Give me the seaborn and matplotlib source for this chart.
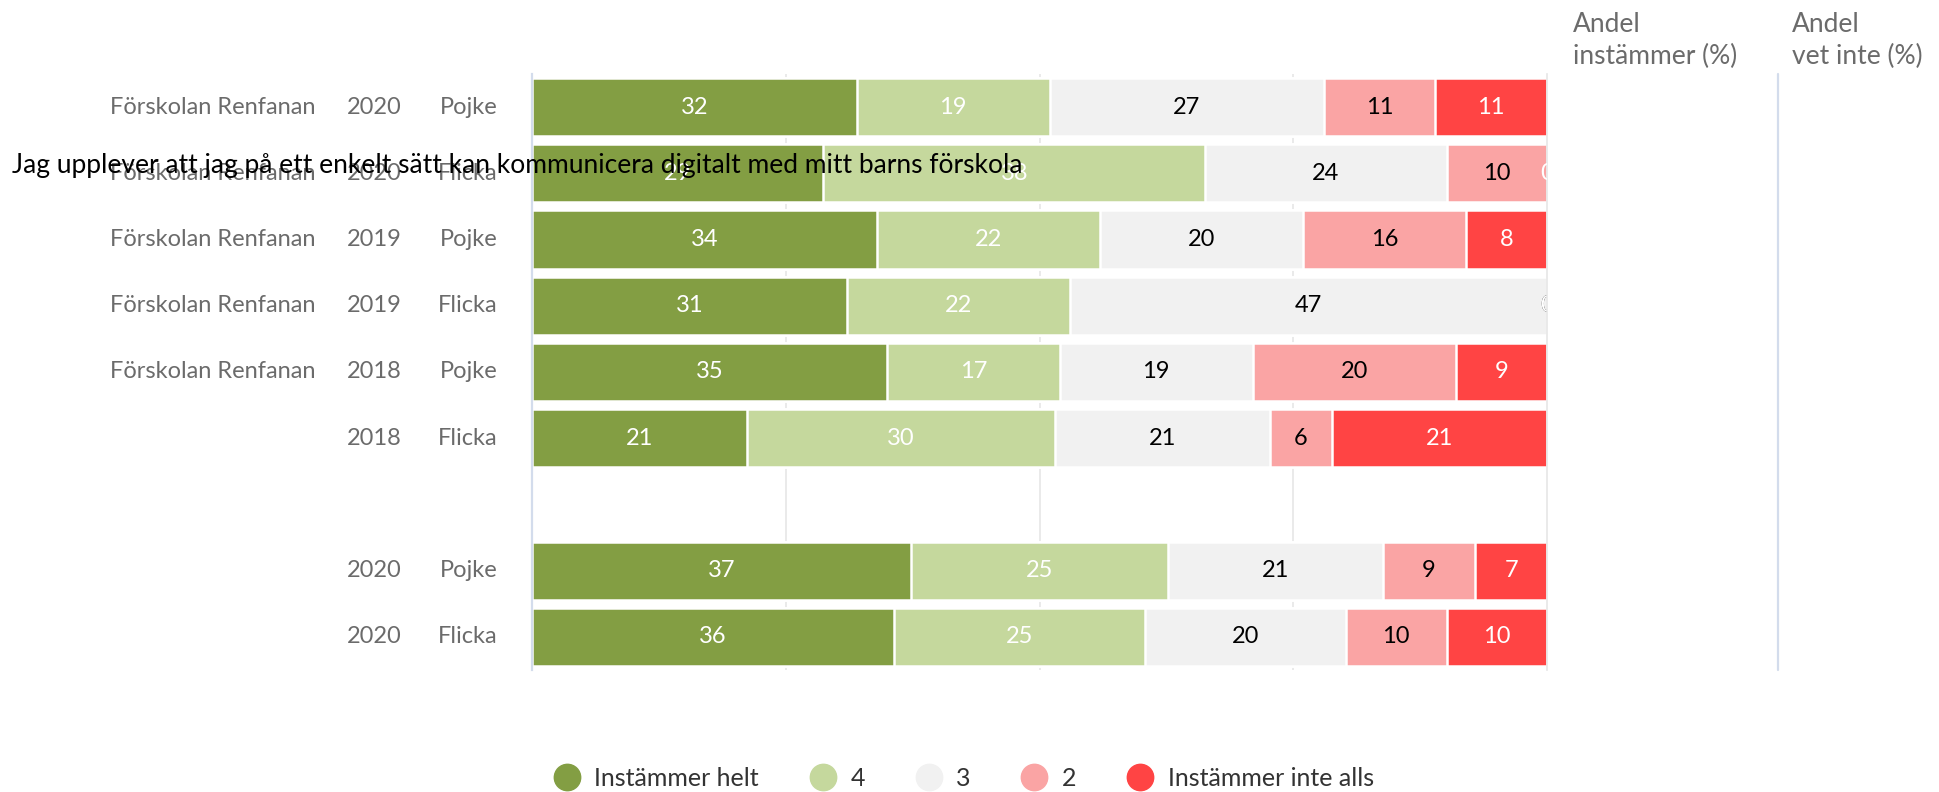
import numpy as np
import pandas as pd
import matplotlib
matplotlib.use("Agg")
import matplotlib.pyplot as plt
import matplotlib.transforms as mtransforms
from matplotlib.lines import Line2D
import seaborn as sns

# ---- data -------------------------------------------------------------
title = "Jag upplever att jag på ett enkelt sätt kan kommunicera digitalt med mitt barns förskola"
schools = ["Förskolan Renfanan"] * 5 + ["", "", "", ""]
years = ["2020", "2020", "2019", "2019", "2018", "2018", "", "2020", "2020"]
genders = ["Pojke", "Flicka", "Pojke", "Flicka", "Pojke", "Flicka", "", "Pojke", "Flicka"]

levels = ["Instämmer helt", "4", "3", "2", "Instämmer inte alls"]
helt = [32, 29, 34, 31, 35, 21, None, 37, 36]
fyra = [19, 38, 22, 22, 17, 30, None, 25, 25]
tre = [27, 24, 20, 47, 19, 21, None, 21, 20]
tva = [11, 10, 16, 0, 20, 6, None, 9, 10]
inte = [11, 0, 8, 0, 9, 21, None, 7, 10]

colors = ["#839E43", "#C5D89D", "#F1F1F1", "#FAA4A4", "#FF4444"]
text_colors = ["white", "white", "black", "black", "white"]

header_cols = ["Andel\ninstämmer (%)", "Andel\nvet inte (%)"]

# ---- figure -----------------------------------------------------------
W, H = 1940, 792
fig = plt.figure(figsize=(W / 100, H / 100), dpi=100)
sns.set_style("white")
plt.rcParams["font.family"] = ["Lato", "DejaVu Sans"]

ax_left, ax_right, ax_top, ax_bot = 532, 1547, 74, 670
ax = fig.add_axes([ax_left / W, 1 - ax_bot / H, (ax_right - ax_left) / W, (ax_bot - ax_top) / H])

row_keys = [f"r{i}" for i in range(len(years))]
series = [helt, fyra, tre, tva, inte]

records = []
for i, key in enumerate(row_keys):
    vals = [s[i] for s in series]
    if vals[0] is None:
        continue
    total = float(sum(vals))
    cum = 0.0
    for lev, v in zip(levels, vals):
        start = cum
        cum += v / total * 100.0
        records.append(dict(row=key, level=lev, value=v, start=start, end=cum))
df = pd.DataFrame(records)

# stacked bars: draw cumulative ends from the last level back to the first
for lev, col in reversed(list(zip(levels, colors))):
    sub = df[df["level"] == lev]
    sns.barplot(data=sub, x="end", y="row", order=row_keys, orient="h",
                color=col, saturation=1, width=0.88, errorbar=None,
                edgecolor="white", linewidth=1.8, ax=ax)

# value labels
for _, r in df.iterrows():
    li = levels.index(r["level"])
    yi = row_keys.index(r["row"])
    ax.text((r["start"] + r["end"]) / 2, yi, f"{r['value']:d}", ha="center", va="center",
            fontsize=17, color=text_colors[li], clip_on=True, zorder=5)

ax.set_xlim(0, 100)
ax.set_ylim(len(row_keys) - 0.5, -0.5)
ax.set_xlabel("")
ax.set_ylabel("")
ax.set_xticks([25, 50, 75])
ax.set_xticklabels([])
ax.tick_params(axis="x", length=0)
ax.xaxis.grid(True, color="#E6E6E6", linewidth=1.2)
ax.yaxis.grid(False)
ax.set_axisbelow(True)

ax.set_yticks(range(len(row_keys)))
ax.set_yticklabels([])
ax.tick_params(axis="y", which="major", length=0)
ax.set_yticks(np.arange(-0.5, len(row_keys), 1.0), minor=True)
ax.tick_params(axis="y", which="minor", length=16, width=1.6, color="#D3DCEC")

for side in ["top", "bottom"]:
    ax.spines[side].set_visible(False)
ax.spines["left"].set_color("#D3DCEC")
ax.spines["left"].set_linewidth(1.6)
ax.spines["right"].set_color("#E6E6E6")
ax.spines["right"].set_linewidth(1.2)

# row labels in three columns
axw = ax_right - ax_left
tr = mtransforms.blended_transform_factory(ax.transAxes, ax.transData)
label_style = dict(ha="right", va="center", fontsize=17, color="#6B6B6B", transform=tr)
for i in range(len(row_keys)):
    if schools[i]:
        ax.text((315 - ax_left) / axw, i, schools[i], **label_style)
    if years[i]:
        ax.text((402 - ax_left) / axw, i, years[i], **label_style)
    if genders[i]:
        ax.text((498 - ax_left) / axw, i, genders[i], **label_style)

# summary column separator
ax.plot([(1778 - ax_left) / axw] * 2, [0, 1], transform=ax.transAxes,
        color="#D3DCEC", linewidth=1.6, clip_on=False)

# column headers
for xpx, txt in zip([1573, 1792], header_cols):
    fig.text(xpx / W, 1 - 12 / H, txt, ha="left", va="top", fontsize=19,
             color="#6B6B6B", linespacing=1.32)

# question title
fig.text(12 / W, 1 - 165 / H, title, ha="left", va="center", fontsize=19, color="black")

# legend
handles = [Line2D([0], [0], marker="o", linestyle="", markersize=19,
                  markerfacecolor=c, markeredgecolor=c) for c in colors]
fig.legend(handles, levels, loc="center", bbox_to_anchor=(0.495, 1 - 778 / H),
           ncol=5, frameon=False, fontsize=18, handletextpad=0.3, columnspacing=1.75,
           handlelength=1.6, labelcolor="#333333")

fig.savefig("out.png", dpi=100)
